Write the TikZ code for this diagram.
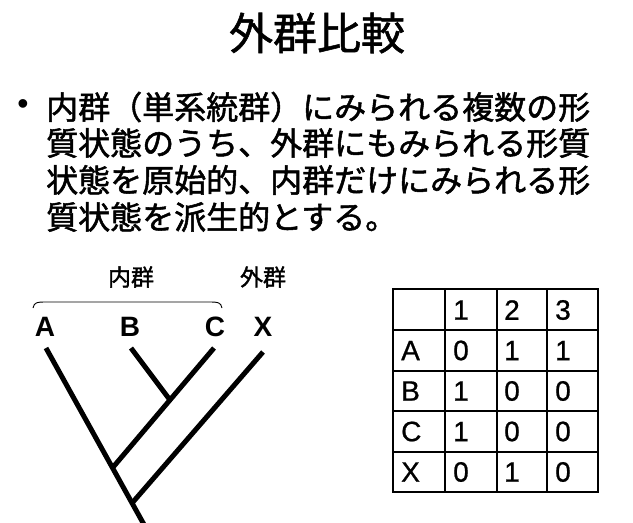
\documentclass[tikz,border=0pt]{standalone}
\usepackage{fontspec}
\newfontfamily\jp[FakeBold=1.6]{Noto Sans CJK JP}
\newfontfamily\jptitle[FakeBold=1.2]{Noto Sans CJK JP}
\newfontfamily\lat[FakeBold=0.8]{Liberation Sans}
\newfontfamily\latb{Liberation Sans}
\usetikzlibrary{calc}
\tikzset{
  title/.style={font=\jptitle\fontsize{44}{44}\selectfont, inner sep=0pt},
  bodyline/.style={font=\jp\fontsize{32}{32}\selectfont, anchor=west, inner sep=0pt},
  grouplabel/.style={font=\jp\fontsize{23}{23}\selectfont, inner sep=0pt},
  taxon/.style={font=\latb\bfseries\fontsize{28}{28}\selectfont, inner sep=0pt},
  branch/.style={line width=5pt},
  cell/.style={font=\lat\fontsize{28}{28}\selectfont, anchor=west, inner sep=0pt},
  grid/.style={line width=1.8pt}
}
\begin{document}
\begin{tikzpicture}[x=1pt,y=-1pt]
\useasboundingbox (0,0) rectangle (633,523);
\fill[white] (0,0) rectangle (633,523);
% title
\node[title] (t) at (317,33) {外群比較};
% bullet text
\node[font=\latb\fontsize{32}{32}\selectfont, inner sep=0pt] (bul) at (23,107) {•};
\node[bodyline] (l1) at (46,107) {内群（単系統群）にみられる複数の形};
\node[bodyline] (l2) at (46,143) {質状態のうち、外群にもみられる形質};
\node[bodyline] (l3) at (46,180) {状態を原始的、内群だけにみられる形};
\node[bodyline] (l4) at (46,217) {質状態を派生的とする。};
% tree
\node[grouplabel] (in) at (131,277) {内群};
\node[grouplabel] (out) at (263,277) {外群};
\coordinate (bl) at (33,308);
\coordinate (br) at (222,308);
\draw[line width=0.9pt] (bl) .. controls (34,302) and (38,302) .. (45,302) -- (210,302) .. controls (217,302) and (221,302) .. (br);
\node[taxon] (A) at (45,327) {A};
\node[taxon] (B) at (130,327) {B};
\node[taxon] (C) at (215,327) {C};
\node[taxon] (X) at (263,327) {X};
\coordinate (ta) at (46,348);
\coordinate (tb) at (131,348);
\coordinate (tc) at (214,348);
\coordinate (tx) at (263,352);
\coordinate (root) at (147,530);
\coordinate (j1) at (113.2,467);
\coordinate (j3) at (133,502);
\coordinate (j2) at ($(tc)!0.437!(j1)$);
\draw[branch] (ta) -- (root);
\draw[branch] (tc) -- (j1);
\draw[branch] (tb) -- (j2);
\draw[branch] (tx) -- (j3);
% table
\draw[grid] (393.3,289.3) rectangle (598.3,492.3);
\foreach \xx in {445,496.7,547.3} \draw[grid] (\xx,289.3) -- (\xx,492.3);
\foreach \yy in {330,370.7,411,451.7} \draw[grid] (393.3,\yy) -- (598.3,\yy);
\node[cell] (h1) at (453,310) {1};
\node[cell] (h2) at (504,310) {2};
\node[cell] (h3) at (555,310) {3};
\node[cell] (rA) at (401,350.5) {A};
\node[cell] (rB) at (401,391) {B};
\node[cell] (rC) at (401,431.5) {C};
\node[cell] (rX) at (401,472) {X};
\node[cell] (a1) at (453,350.5) {0};
\node[cell] (a2) at (504,350.5) {1};
\node[cell] (a3) at (555,350.5) {1};
\node[cell] (b1) at (453,391) {1};
\node[cell] (b2) at (504,391) {0};
\node[cell] (b3) at (555,391) {0};
\node[cell] (c1) at (453,431.5) {1};
\node[cell] (c2) at (504,431.5) {0};
\node[cell] (c3) at (555,431.5) {0};
\node[cell] (x1) at (453,472) {0};
\node[cell] (x2) at (504,472) {1};
\node[cell] (x3) at (555,472) {0};
\end{tikzpicture}
\end{document}
